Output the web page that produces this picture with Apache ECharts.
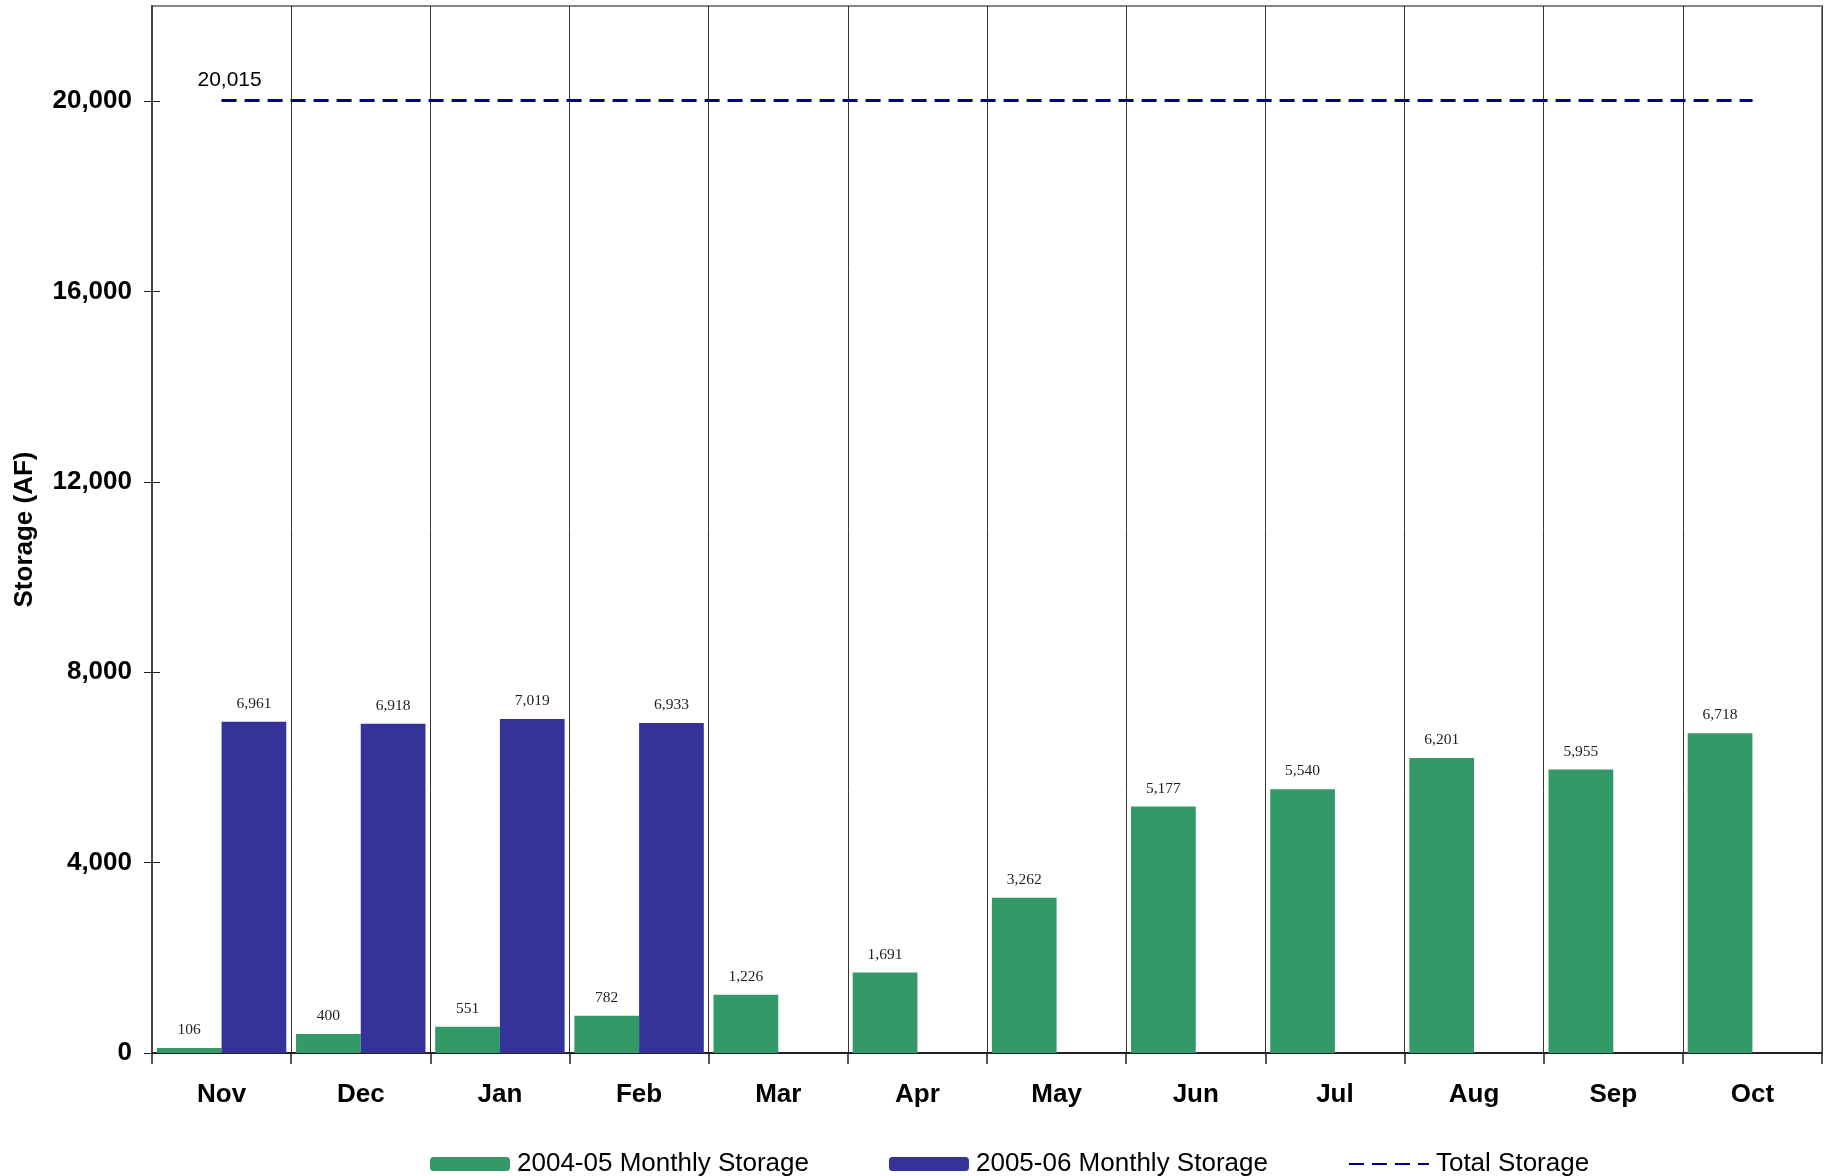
<!DOCTYPE html>
<html>
<head>
<meta charset="utf-8">
<script src="https://cdn.jsdelivr.net/npm/echarts@6/dist/echarts.min.js"></script>
<style>html,body{margin:0;padding:0;background:#fff}#c{width:1834px;height:1176px}</style>
</head>
<body>
<div id="c"></div>
<script>
const months = ['Nov','Dec','Jan','Feb','Mar','Apr','May','Jun','Jul','Aug','Sep','Oct'];
const storage0405 = [106, 400, 551, 782, 1226, 1691, 3262, 5177, 5540, 6201, 5955, 6718];
const storage0506 = [6961, 6918, 7019, 6933, null, null, null, null, null, null, null, null];
const totalStorage = [20015, 20015, 20015, 20015, 20015, 20015, 20015, 20015, 20015, 20015, 20015, 20015];
const yTicks = [0, 4000, 8000, 12000, 16000, 20000];

const chart = echarts.init(document.getElementById('c'));
const fmt = v => v.toLocaleString('en-US');
const barLabel = {
  show: true, position: 'top', distance: 10,
  fontFamily: 'Liberation Serif', fontSize: 15.5, color: '#222',
  formatter: p => fmt(p.value)
};
chart.setOption({
  animation: false,
  backgroundColor: '#fff',
  grid: { left: 152, right: 12, top: 6, bottom: 123, outerBoundsMode: 'none', containLabel: false,
    show: true, borderColor: '#888', borderWidth: 2 },
  legend: {
    left: 425, top: 1146,
    itemWidth: 80, itemHeight: 14, itemGap: 80,
    textStyle: { fontFamily: 'Liberation Sans', fontSize: 26, color: '#000', padding: [0,0,0,2] },
    data: ['2004-05 Monthly Storage', '2005-06 Monthly Storage',
      { name: 'Total Storage', itemStyle: { opacity: 0 } }]
  },
  xAxis: {
    type: 'category', data: months,
    axisLine: { lineStyle: { color: '#222', width: 2 } },
    axisTick: { show: true, length: 11, lineStyle: { color: '#222', width: 1.5 } },
    splitLine: { show: true, lineStyle: { color: '#333', width: 1 } },
    axisLabel: { margin: 29, fontFamily: 'Liberation Sans', fontWeight: 'bold', fontSize: 26, color: '#000' }
  },
  yAxis: [{
    type: 'value', min: 0, max: 22000, interval: 4000,
    name: 'Storage (AF)', nameLocation: 'middle', nameGap: 114,
    nameTextStyle: { fontFamily: 'Liberation Sans', fontWeight: 'bold', fontSize: 26, color: '#000' },
    axisLine: { show: true, lineStyle: { color: '#444', width: 2 } },
    axisTick: { show: true, length: 8, customValues: yTicks, lineStyle: { color: '#222' } },
    splitLine: { show: false },
    axisLabel: { margin: 20, customValues: yTicks, fontFamily: 'Liberation Sans', fontWeight: 'bold', fontSize: 26, color: '#000',
      formatter: v => fmt(v) }
  }, {
    type: 'value', min: 0, max: 22000, interval: 4000, position: 'left', offset: 0,
    axisLine: { show: false },
    axisTick: { show: true, inside: true, length: 8, customValues: yTicks, lineStyle: { color: '#222' } },
    axisLabel: { show: false }, splitLine: { show: false }
  }],
  series: [
    {
      name: '2004-05 Monthly Storage', type: 'bar', data: storage0405,
      barGap: '0%', barCategoryGap: '7%',
      itemStyle: { color: '#339966' }, label: barLabel
    },
    {
      name: '2005-06 Monthly Storage', type: 'bar', data: storage0506,
      itemStyle: { color: '#333399' }, label: barLabel
    },
    {
      name: 'Total Storage', type: 'line', symbol: 'circle', symbolSize: 1, showSymbol: true,
      data: totalStorage.map((v, i) => i === 0 ? {
        value: v,
        label: { show: true, position: 'top', distance: 9, offset: [8, 0],
          fontFamily: 'Liberation Sans', fontSize: 21, color: '#000', formatter: p => fmt(p.value) }
      } : v),
      lineStyle: { color: '#000080', width: 3, type: [15, 8] },
      itemStyle: { color: '#000080' },
      z: 5
    }
  ]
});
</script>
</body>
</html>
